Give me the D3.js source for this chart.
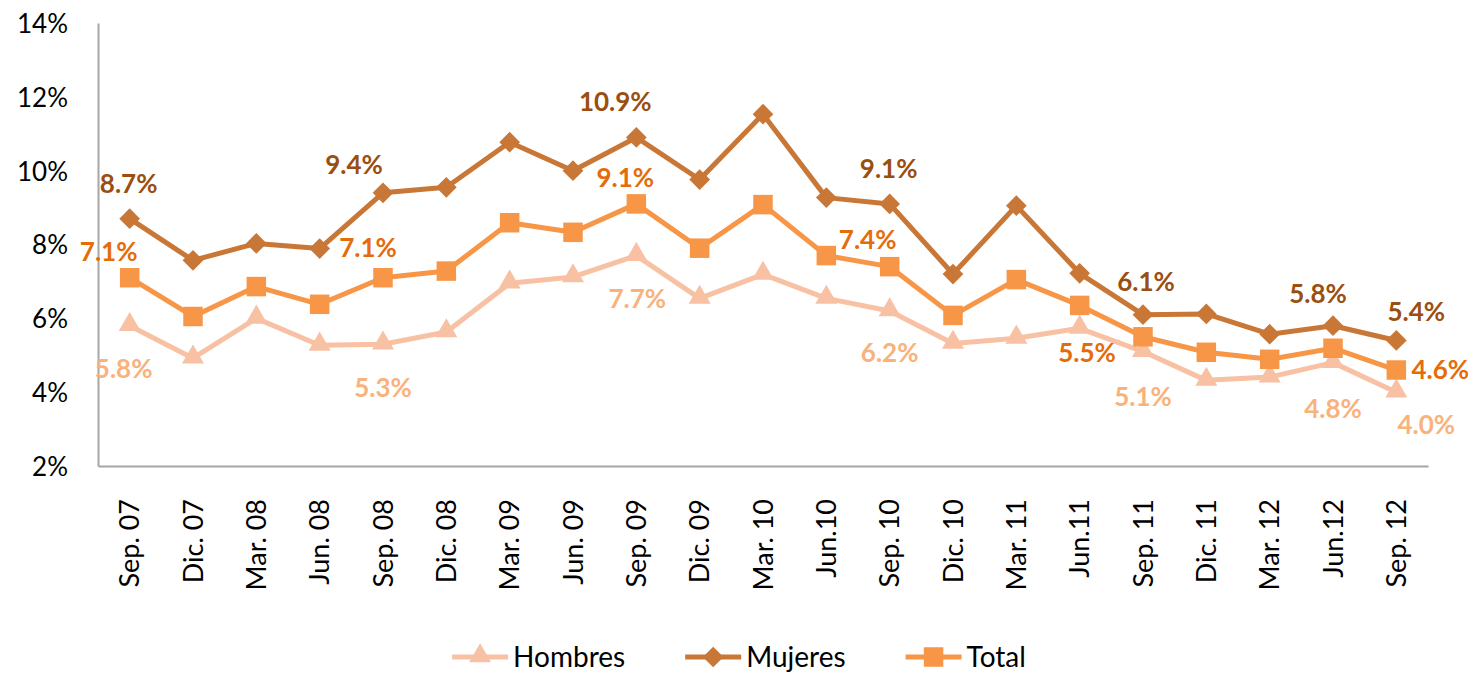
<!DOCTYPE html>
<html>
<head>
<meta charset="utf-8">
<script src="https://cdn.jsdelivr.net/npm/d3@7"></script>
<style>
  html, body { margin: 0; padding: 0; background: #ffffff; }
  svg { display: block; font-family: Lato, "Open Sans", sans-serif; }
</style>
</head>
<body>
<svg id="chart" width="1478" height="673"></svg>
<script>
// Quarterly periods
const periods = ["Sep. 07", "Dic. 07", "Mar. 08", "Jun. 08", "Sep. 08", "Dic. 08",
  "Mar. 09", "Jun. 09", "Sep. 09", "Dic. 09", "Mar. 10", "Jun.10", "Sep. 10",
  "Dic. 10", "Mar. 11", "Jun.11", "Sep. 11", "Dic. 11", "Mar. 12", "Jun.12", "Sep. 12"];

// Rates, in percent
const hombres = [5.8, 4.92, 6.0, 5.27, 5.3, 5.63, 6.95, 7.12, 7.7, 6.54, 7.19,
  6.54, 6.2, 5.32, 5.46, 5.73, 5.1, 4.32, 4.41, 4.8, 4.0];
const mujeres = [8.7, 7.57, 8.03, 7.89, 9.4, 9.55, 10.77, 10.0, 10.9, 9.76, 11.53,
  9.27, 9.1, 7.2, 9.05, 7.22, 6.1, 6.12, 5.57, 5.8, 5.4];
const total = [7.1, 6.05, 6.86, 6.38, 7.1, 7.28, 8.59, 8.33, 9.1, 7.9, 9.08,
  7.7, 7.4, 6.08, 7.05, 6.35, 5.5, 5.08, 4.89, 5.19, 4.6];

// Y axis ticks, in percent
const yTicks = [2, 4, 6, 8, 10, 12, 14];

// Points that carry a value label
const hombresLabelled = [0, 4, 8, 12, 16, 19, 20];
const mujeresLabelled = [0, 4, 8, 12, 16, 19, 20];
const totalLabelled = [0, 4, 8, 12, 16, 20];

const svg = d3.select("#chart");
const margin = { left: 98, right: 50, top: 23, bottom: 207 };
const W = 1478, H = 673;

const x = d3.scaleBand().domain(periods)
  .range([margin.left, W - margin.right]).paddingInner(0).paddingOuter(0);
const y = d3.scaleLinear().domain([2, 14]).range([H - margin.bottom, margin.top]);
const cx = p => x(p) + x.bandwidth() / 2;

// Axes
const yAxis = d3.axisLeft(y).tickValues(yTicks).tickSize(0).tickPadding(30)
  .tickFormat(d => d + "%");
const gy = svg.append("g").attr("transform", `translate(${margin.left},0)`).call(yAxis);
gy.select(".domain").attr("stroke", "#a6a6a6").attr("stroke-width", 2);
gy.selectAll("text").attr("font-size", 26).attr("fill", "#000")
  .attr("font-family", "Lato, sans-serif").attr("dy", "0.36em");

const xAxis = d3.axisBottom(x).tickSize(0).tickPadding(0);
const gx = svg.append("g").attr("transform", `translate(0,${y(2)})`).call(xAxis);
gx.select(".domain").attr("stroke", "#a6a6a6").attr("stroke-width", 2);
gx.selectAll("text")
  .attr("font-size", 27).attr("fill", "#000").attr("font-family", "Lato, sans-serif")
  .attr("text-anchor", "end")
  .attr("transform", "rotate(-90)")
  .attr("x", -33).attr("y", 0).attr("dy", "0.36em");

// Series styling
const series = [
  { name: "Hombres", values: hombres, line: "#f8c1a3", label: "#f9b27c", shape: "triangle", labelled: hombresLabelled },
  { name: "Mujeres", values: mujeres, line: "#c97736", label: "#9a4f10", shape: "diamond", labelled: mujeresLabelled },
  { name: "Total", values: total, line: "#f79646", label: "#e46c0a", shape: "square", labelled: totalLabelled }
];

// Label placement relative to each labelled point (pixels)
const labelOffsets = {
  Hombres: { 0: [-6, 43], 4: [0, 43], 8: [1, 43], 12: [0, 42], 16: [0, 45], 19: [0, 46], 20: [30, 32] },
  Mujeres: { 0: [-1, -35], 4: [-29, -28], 8: [-21, -36], 12: [-1, -35], 16: [3, -33], 19: [-15, -32], 20: [20, -29] },
  Total: { 0: [-21, -26], 4: [-15, -30], 8: [-11, -26], 12: [-22, -27], 16: [-56, 16], 20: [44, 0] }
};

function symbolPath(shape) {
  if (shape === "triangle") return d3.symbol().type(d3.symbolTriangle).size(210)();
  if (shape === "diamond") return d3.symbol().type(d3.symbolSquare).size(215)();
  return d3.symbol().type(d3.symbolSquare).size(380)();
}
function symbolTransform(shape, px, py) {
  if (shape === "diamond") return `translate(${px},${py}) rotate(45)`;
  if (shape === "triangle") return `translate(${px},${py - 1})`;
  return `translate(${px},${py})`;
}

const line = d3.line().x((d, i) => cx(periods[i])).y(d => y(d));

const plot = svg.append("g");
series.forEach(s => {
  const g = plot.append("g");
  g.append("path").datum(s.values).attr("d", line)
    .attr("fill", "none").attr("stroke", s.line).attr("stroke-width", 5)
    .attr("stroke-linejoin", "round");
  g.selectAll("path.mk").data(s.values).join("path").attr("class", "mk")
    .attr("d", symbolPath(s.shape))
    .attr("transform", (d, i) => symbolTransform(s.shape, cx(periods[i]), y(d)))
    .attr("fill", s.line);
});

// Value labels
const fmt = d3.format(".1f");
const labels = svg.append("g");
series.forEach(s => {
  s.labelled.forEach(i => {
    const off = labelOffsets[s.name][i];
    labels.append("text")
      .attr("x", cx(periods[i]) + off[0])
      .attr("y", y(s.values[i]) + off[1])
      .attr("dy", "0.36em")
      .attr("text-anchor", "middle")
      .attr("font-size", 26).attr("font-weight", "bold")
      .attr("fill", s.label)
      .text(fmt(s.values[i]) + "%");
  });
});

// Legend
const legend = svg.append("g").attr("transform", `translate(0,657)`);
const items = [];
series.forEach(s => {
  const it = legend.append("g");
  it.append("line").attr("x1", 0).attr("x2", 56).attr("y1", 0).attr("y2", 0)
    .attr("stroke", s.line).attr("stroke-width", 5);
  it.append("path").attr("d", symbolPath(s.shape))
    .attr("transform", symbolTransform(s.shape, 28, 0)).attr("fill", s.line);
  const t = it.append("text").attr("x", 61).attr("dy", "0.36em")
    .attr("font-size", 28).attr("fill", "#000").text(s.name);
  const w = 61 + t.node().getComputedTextLength();
  items.push({ it, w });
});
const gap = 60;
const totalW = d3.sum(items, d => d.w) + gap * (items.length - 1);
let cursor = W / 2 - totalW / 2;
items.forEach(d => {
  d.it.attr("transform", `translate(${cursor},0)`);
  cursor += d.w + gap;
});
</script>
</body>
</html>
